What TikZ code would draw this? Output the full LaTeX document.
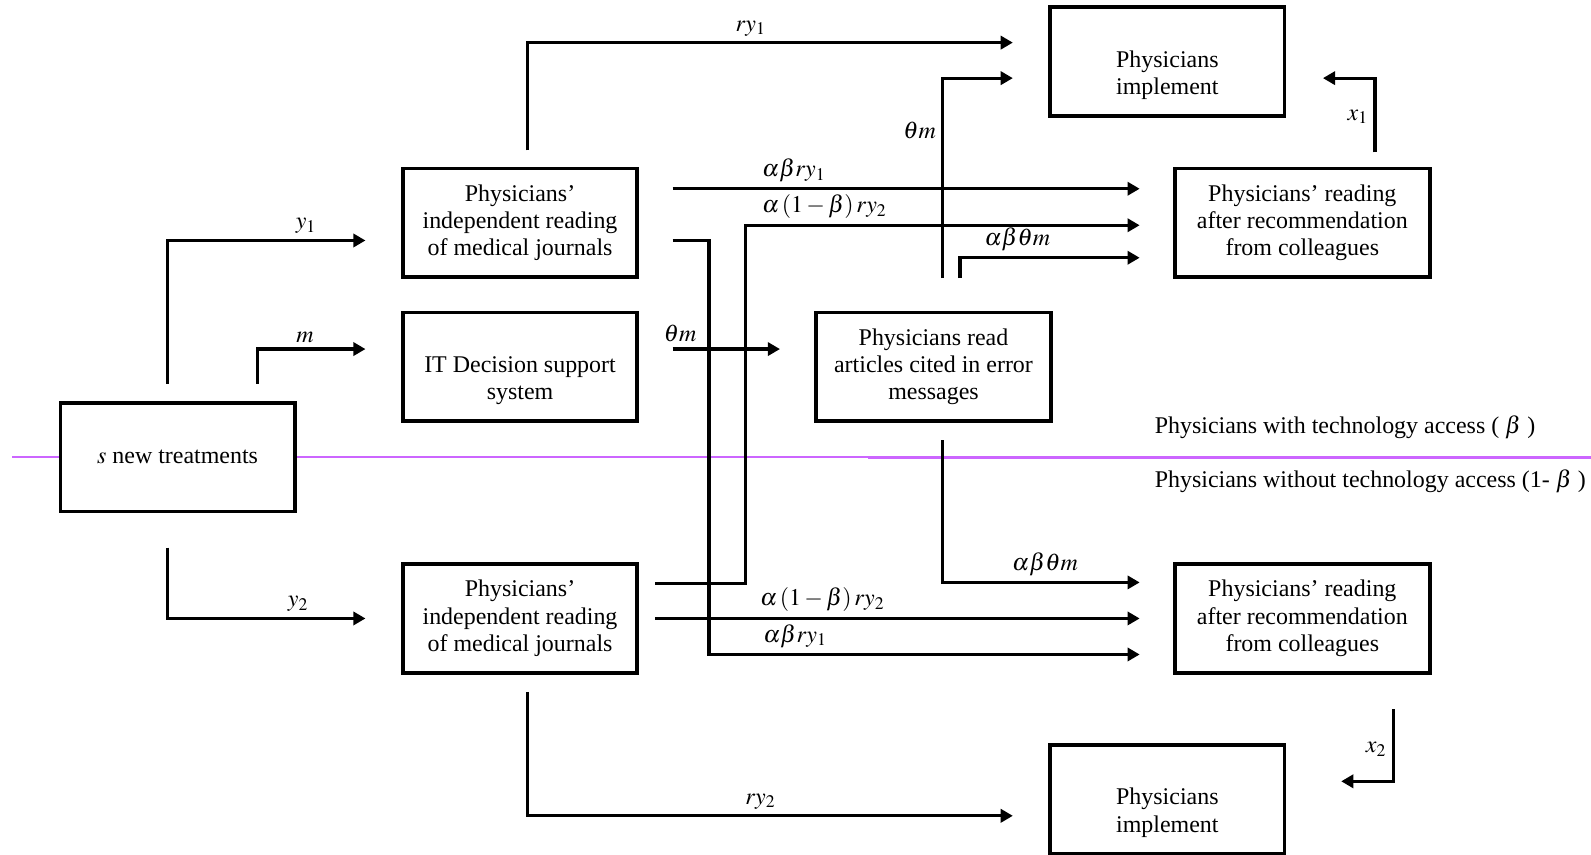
\documentclass[tikz,border=0pt]{standalone}
\usepackage{mathptmx}
\usepackage{fontspec}
\setmainfont{Liberation Serif}
\usepackage{xcolor}
\usepackage{tikz}
\usetikzlibrary{arrows.meta}
\definecolor{lilac}{RGB}{204,102,255}

\begin{document}
\begin{tikzpicture}[x=0.5pt,y=-0.5pt,
   font=\fontsize{11.8}{13.5}\selectfont,
   box/.style={draw,line width=1.8pt,fill=white,align=center,
     minimum width=115.5pt,minimum height=53.5pt,inner sep=2pt},
   wbox/.style={box,minimum width=125.5pt},
   twobox/.style={box,label={[align=center,yshift=-6.75pt]center:#1}},
   flow/.style={line width=1.6pt,-{Triangle[length=6pt,width=6.5pt]}},
   lab/.style={inner sep=2.5pt},
   split/.style={draw=lilac,line width=0.9pt}]
  \useasboundingbox (0,0) rectangle (1568,842);
  % access line
  \draw[split] (12,450) -- (855,450);
  \draw[split,line width=1.6pt] (855,451) -- (1568,451);
  \node[anchor=west] (withacc) at (1131,421)
    {Physicians with technology access ( $\beta$ )};
  \node[anchor=west] (noacc) at (1131,474)
    {Physicians without technology access (1- $\beta$ )};
  % boxes
  \node[box] (s) at (175,450.5) {$s$ new treatments};
  \node[box] (jour1) at (512.5,219.5)
    {Physicians'\\independent reading\\of medical journals};
  \node[twobox={IT Decision support\\system}] (itds) at (512.5,361.5) {};
  \node[box] (read) at (920,361.5)
    {Physicians read\\articles cited in error\\messages};
  \node[twobox={Physicians\\implement}] (impl1) at (1150.5,60.5) {};
  \node[wbox] (colg1) at (1283.5,219.5)
    {Physicians' reading\\after recommendation\\from colleagues};
  \node[box] (jour2) at (512.5,609.5)
    {Physicians'\\independent reading\\of medical journals};
  \node[wbox] (colg2) at (1283.5,609.5)
    {Physicians' reading\\after recommendation\\from colleagues};
  \node[twobox={Physicians\\implement}] (impl2) at (1150.5,787.5) {};
  % from s
  \draw[flow] ([xshift=-5pt,yshift=8.5pt]s.north)
    |- ([xshift=-17.5pt,yshift=-8.75pt]jour1.west)
    node[lab,above,pos=0.85] {$y_1$};
  \draw[flow] ([xshift=39.5pt,yshift=8.5pt]s.north)
    |- ([xshift=-17.5pt,yshift=8.75pt]itds.west)
    node[lab,above,pos=0.72] {$m$};
  \draw[flow] ([xshift=-5pt,yshift=-17pt]s.south)
    |- ([xshift=-17.5pt]jour2.west)
    node[lab,above,pos=0.83] {$y_2$};
  % direct implementation
  \draw[flow] ([xshift=3.75pt,yshift=8pt]jour1.north)
    |- ([xshift=-17.5pt,yshift=9.25pt]impl1.west)
    node[lab,above,pos=0.73] {$ry_1$};
  \draw[flow] ([xshift=3.75pt,yshift=-8.5pt]jour2.south)
    |- ([xshift=-17.5pt,yshift=-8.25pt]impl2.west)
    node[lab,above,pos=0.74] {$ry_2$};
  % word of mouth
  \draw[flow] ([xshift=16.5pt,yshift=16.75pt]jour1.east)
    -- ([xshift=-16.5pt,yshift=16.75pt]colg1.west)
    node[lab,above,pos=0.26] {$\alpha\beta ry_1$};
  \draw[flow] ([xshift=16.5pt,yshift=-8.75pt]jour1.east) -- ++(18pt,0)
    |- ([xshift=-16.5pt,yshift=-17.75pt]colg2.west)
    node[lab,above,pos=0.6] {$\alpha\beta ry_1$};
  \draw[flow] ([xshift=8pt,yshift=17.25pt]jour2.east) -- ++(44.5pt,0)
    |- ([xshift=-16.5pt,yshift=-1.25pt]colg1.west)
    node[lab,above,pos=0.6] {$\alpha\left(1-\beta\right)ry_2$};
  \draw[flow] ([xshift=8pt]jour2.east) -- ([xshift=-16.5pt]colg2.west)
    node[lab,above,pos=0.345] {$\alpha\left(1-\beta\right)ry_2$};
  % error messages
  \draw[flow] ([xshift=16.5pt,yshift=8.75pt]itds.east)
    -- ([xshift=-17pt,yshift=8.75pt]read.west)
    node[lab,above,pos=0.07] {$\theta m$};
  \draw[flow] ([xshift=4.5pt,yshift=16pt]read.north)
    |- ([xshift=-17.5pt,yshift=-8.25pt]impl1.west)
    node[lab,left,pos=0.37] {$\theta m$};
  \draw[flow] ([xshift=13pt,yshift=16pt]read.north)
    |- ([xshift=-16.5pt,yshift=-17.25pt]colg1.west)
    node[lab,above,pos=0.66] {$\alpha\beta\theta m$};
  \draw[flow] ([xshift=4.5pt,yshift=-8.5pt]read.south)
    |- ([xshift=-16.5pt,yshift=17.75pt]colg2.west)
    node[lab,above,pos=0.76] {$\alpha\beta\theta m$};
  % from colleagues
  \draw[flow] ([xshift=35.75pt,yshift=7pt]colg1.north)
    |- ([xshift=18pt,yshift=-8.25pt]impl1.east)
    node[lab,left,pos=0.24] {$x_1$};
  \draw[flow] ([xshift=44.75pt,yshift=-17pt]colg2.south)
    |- ([xshift=27pt,yshift=8.75pt]impl2.east)
    node[lab,left,pos=0.28] {$x_2$};
\end{tikzpicture}
\end{document}
